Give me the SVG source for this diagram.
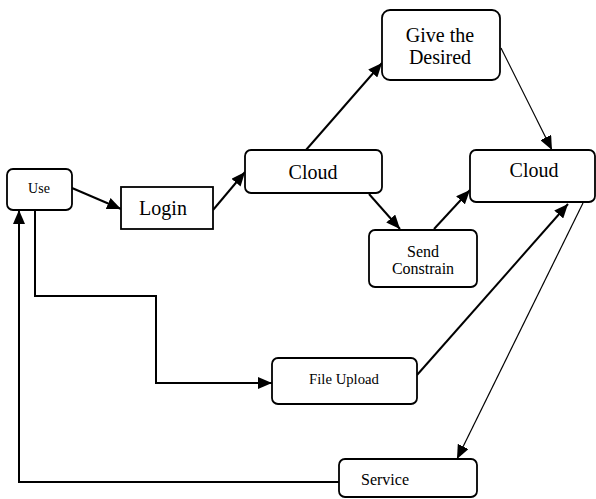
<svg xmlns="http://www.w3.org/2000/svg" width="596" height="499" viewBox="0 0 596 499">
<style>
.box{fill:#fff;stroke:#000;stroke-width:1.8}
.t{font-family:"Liberation Serif","Times New Roman",serif;fill:#000;text-anchor:middle}
.c{fill:none;stroke:#000;stroke-width:2}
.thin{fill:none;stroke:#000;stroke-width:1.2}
</style>
<defs>
<marker id="ah" markerUnits="userSpaceOnUse" markerWidth="15" markerHeight="12" refX="14" refY="6" orient="auto">
<path d="M0,0 L14,6 L0,12 z" fill="#000"/>
</marker>
</defs>
<rect width="596" height="499" fill="#fff"/>
<g id="connectors">
<line class="c" x1="72" y1="188" x2="121" y2="209" marker-end="url(#ah)"/>
<line class="c" x1="213" y1="210" x2="245" y2="172" marker-end="url(#ah)"/>
<line class="c" x1="306" y1="150" x2="382" y2="63" marker-end="url(#ah)"/>
<line class="thin" x1="501" y1="48" x2="552" y2="150" marker-end="url(#ah)"/>
<line class="c" x1="369" y1="194" x2="400" y2="229" marker-end="url(#ah)"/>
<line class="c" x1="434" y1="229" x2="470" y2="190" marker-end="url(#ah)"/>
<polyline class="c" points="35,210 35,296 156,296 156,383 272,383" marker-end="url(#ah)"/>
<line class="c" x1="417" y1="375" x2="568" y2="204" marker-end="url(#ah)"/>
<line class="thin" x1="583" y1="203" x2="457" y2="459" marker-end="url(#ah)"/>
<polyline class="c" points="339,482 19,482 19,210" marker-end="url(#ah)"/>
</g>
<g id="use">
<rect class="box" x="7" y="169" width="65" height="41" rx="6"/>
<text class="t" x="39" y="193" font-size="14">Use</text>
</g>
<g id="login">
<rect class="box" x="121" y="187" width="92" height="42"/>
<text class="t" x="163" y="215" font-size="20">Login</text>
</g>
<g id="cloud1">
<rect class="box" x="245" y="150" width="137" height="43" rx="6"/>
<text class="t" x="313" y="179" font-size="20">Cloud</text>
</g>
<g id="give">
<rect class="box" x="382" y="10" width="118" height="70" rx="8"/>
<text class="t" x="440" y="42" font-size="20">Give the</text>
<text class="t" x="440" y="64" font-size="20">Desired</text>
</g>
<g id="cloud2">
<rect class="box" x="470" y="150" width="125" height="52" rx="6"/>
<text class="t" x="534" y="177" font-size="20">Cloud</text>
</g>
<g id="send">
<rect class="box" x="369" y="230" width="108" height="57" rx="6"/>
<text class="t" x="423" y="257" font-size="16">Send</text>
<text class="t" x="423" y="274" font-size="16">Constrain</text>
</g>
<g id="fileupload">
<rect class="box" x="272" y="358" width="145" height="46" rx="6"/>
<text class="t" x="344" y="384" font-size="14.7">File Upload</text>
</g>
<g id="service">
<rect class="box" x="339" y="459" width="138" height="38" rx="6"/>
<text class="t" x="385" y="485" font-size="16">Service</text>
</g>
</svg>
